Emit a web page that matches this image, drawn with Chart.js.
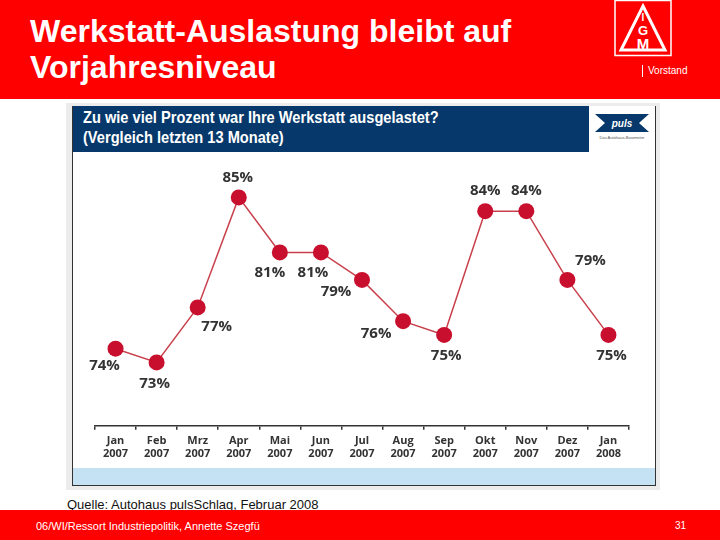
<!DOCTYPE html>
<html>
<head>
<meta charset="utf-8">
<script src="https://cdn.jsdelivr.net/npm/chart.js@4.4.1/dist/chart.umd.min.js"></script>
<style>
  html, body { margin: 0; padding: 0; }
  body { width: 720px; height: 540px; position: relative; overflow: hidden; background: #fff; font-family: "Liberation Sans", Arial, sans-serif; }
  .top { position: absolute; left: 0; top: 0; width: 720px; height: 99px; background: #ff0000; }
  .title { position: absolute; left: 30px; top: 13px; color: #fff; font-size: 32px; font-weight: bold; line-height: 36px; }
  .logo { position: absolute; left: 614px; top: 0; }
  .vorstand { position: absolute; left: 642px; top: 65px; color: #fff; font-size: 10px; border-left: 1px solid #fff; padding-left: 5px; line-height: 12px; }
  .frame { position: absolute; left: 66px; top: 103px; width: 594px; height: 387px; background: #ececec; }
  .box { position: absolute; left: 72px; top: 106px; width: 582px; height: 379px; background: #fff; border: 1.5px solid #333; border-top: none; }
  .qhead { position: absolute; left: 0; top: 0; width: 516px; height: 46px; background: #06386b; }
  .qhead div { position: absolute; left: 10px; top: 2px; color: #fff; font-weight: bold; font-size: 17px; line-height: 20px;
               white-space: nowrap; transform: scaleX(0.86); transform-origin: 0 0; }
  .puls { position: absolute; left: 520px; top: 6px; }
  .band { position: absolute; left: 0; bottom: 0; width: 582px; height: 17px; background: #c4e2f3; }
  #wrap { position: absolute; left: 0; top: 46px; width: 582px; height: 317px; }
  .src { position: absolute; left: 67px; top: 497px; font-size: 13px; color: #111; }
  .foot { position: absolute; left: 0; top: 510px; width: 720px; height: 30px; background: #ff0000; color: #fff; }
  .foot .l { position: absolute; left: 36px; top: 10px; font-size: 11px; }
  .foot .r { position: absolute; left: 675px; top: 10px; font-size: 10px; }
</style>
</head>
<body>
<div class="top">
  <div class="title">Werkstatt-Auslastung bleibt auf<br>Vorjahresniveau</div>
  <svg class="logo" width="58" height="58" viewBox="0 0 58 58">
    <rect x="1" y="0.5" width="56" height="55" fill="none" stroke="#fff" stroke-width="1.5"/>
    <polygon points="29,6 51,50 7,50" fill="none" stroke="#fff" stroke-width="3"/>
    <text x="29" y="21" fill="#fff" font-size="10" font-weight="bold" text-anchor="middle" font-family="Liberation Sans">I</text>
    <text x="29" y="35" fill="#fff" font-size="13" font-weight="bold" text-anchor="middle" font-family="Liberation Sans">G</text>
    <text x="29" y="49" fill="#fff" font-size="15" font-weight="bold" text-anchor="middle" font-family="Liberation Sans">M</text>
  </svg>
  <div class="vorstand">Vorstand</div>
</div>

<div class="frame"></div>
<div class="box">
  <div class="qhead"><div>Zu wie viel Prozent war Ihre Werkstatt ausgelastet?<br>(Vergleich letzten 13 Monate)</div></div>
  <svg class="puls" width="58" height="34" viewBox="0 0 58 34">
    <polygon points="2,2 56,2 46,11 56,20 2,20 12,11" fill="#06386b"/>
    <text x="29" y="15" fill="#fff" font-size="10" font-weight="bold" font-style="italic" text-anchor="middle" font-family="Liberation Sans">puls</text>
    <text x="29" y="27" fill="#555" font-size="4" text-anchor="middle" font-family="Liberation Sans">Das Autohaus-Barometer</text>
  </svg>
  <div id="wrap"><canvas id="c"></canvas></div>
  <div class="band"></div>
</div>
<div class="src">Quelle: Autohaus pulsSchlag, Februar 2008</div>
<div class="foot"><span class="l">06/WI/Ressort Industriepolitik, Annette Szegfü</span><span class="r">31</span></div>

<script>
/* ---- data ---- */
const MONTHS = ["Jan", "Feb", "Mrz", "Apr", "Mai", "Jun", "Jul", "Aug", "Sep", "Okt", "Nov", "Dez", "Jan"];
const YEARS  = ["2007", "2007", "2007", "2007", "2007", "2007", "2007", "2007", "2007", "2007", "2007", "2007", "2008"];
const AUSLASTUNG = [74, 73, 77, 85, 81, 81, 79, 76, 75, 84, 84, 79, 75];

// where each value label sits relative to its point (dx, dy in px)
const LABEL_POS = [[-11, 17], [-2, 21], [19, 19], [-1, -20], [-10, 20], [-8, 20], [-26, 12], [-27, 13], [2, 21], [0, -20], [0, -20], [23, -19], [3, 21]];

const valueLabels = {
  id: "valueLabels",
  afterDatasetsDraw(chart) {
    const ctx = chart.ctx;
    const meta = chart.getDatasetMeta(0);
    ctx.save();
    ctx.font = "bold 15px 'Open Sans', 'DejaVu Sans', sans-serif";
    ctx.fillStyle = "#333";
    ctx.textAlign = "center";
    ctx.textBaseline = "middle";
    meta.data.forEach((pt, i) => {
      const [dx, dy] = LABEL_POS[i];
      ctx.fillText(AUSLASTUNG[i] + "%", pt.x + dx, pt.y + dy);
    });
    ctx.restore();
  }
};

new Chart(document.getElementById("c"), {
  type: "line",
  data: {
    labels: MONTHS.map((m, i) => [m, YEARS[i]]),
    datasets: [{
      data: AUSLASTUNG,
      borderColor: "#c9404c",
      borderWidth: 1.5,
      pointRadius: 8,
      pointBackgroundColor: "#c8102e",
      pointBorderWidth: 0,
      tension: 0,
      clip: false,
    }],
  },
  options: {
    responsive: true,
    maintainAspectRatio: false,
    animation: false,
    layout: { autoPadding: false, padding: { left: 22, right: 26, top: 0, bottom: 4 } },
    plugins: { legend: { display: false }, tooltip: { enabled: false } },
    scales: {
      x: {
        offset: true,
        border: { color: "#333", width: 1.5 },
        grid: { offset: true, drawOnChartArea: false, tickLength: 4, color: "#333", lineWidth: 1.5 },
        ticks: { color: "#333", maxRotation: 0, autoSkip: false, padding: 5, font: { family: "'Open Sans', 'DejaVu Sans', sans-serif", size: 11, weight: "bold", lineHeight: 1.15 } },
      },
      y: { display: false, min: 68.4, max: 88.3 },
    },
  },
  plugins: [valueLabels],
});
</script>
</body>
</html>
